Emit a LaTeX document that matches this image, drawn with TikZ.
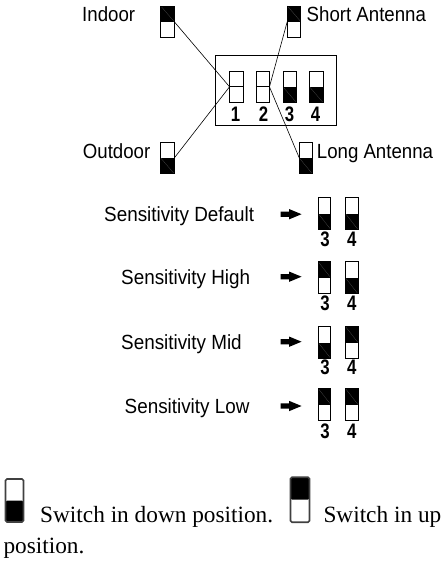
\documentclass[tikz,border=0pt]{standalone}
\usepackage{fontspec}
\setmainfont{Liberation Serif}
\newfontfamily\labfont[FakeStretch=0.91]{Liberation Sans}
\newfontfamily\senfont[FakeStretch=0.92]{Liberation Sans}
\newfontfamily\numfont[FakeStretch=0.8]{Liberation Sans}
\usetikzlibrary{shapes.arrows}
\tikzset{
  sw/.style={draw, line width=0.7pt, inner sep=0pt, outer sep=0pt, minimum width=13.5pt, minimum height=31.5pt},
  swup/.style={sw, path picture={
     \fill (path picture bounding box.north west) rectangle (path picture bounding box.east);
     \draw[black!70, line width=0.25pt] (path picture bounding box.north west) -- (path picture bounding box.east);}},
  swdn/.style={sw, path picture={
     \fill (path picture bounding box.west) rectangle (path picture bounding box.south east);
     \draw[black!70, line width=0.25pt] (path picture bounding box.west) -- (path picture bounding box.south east);}},
  swmid/.style={sw, path picture={\draw[line width=0.7pt] (path picture bounding box.west) -- (path picture bounding box.east);}},
  rsw/.style={minimum width=12.5pt, minimum height=32pt},
  lab/.style={font=\labfont\fontsize{20.5}{24}\selectfont, inner sep=0pt, anchor=base west},
  sen/.style={font=\senfont\fontsize{20.5}{24}\selectfont, inner sep=0pt, anchor=base west},
  num/.style={font=\numfont\bfseries\fontsize{21}{24}\selectfont, inner sep=0pt, anchor=base},
  leg/.style={font=\fontsize{23.3}{28}\selectfont, inner sep=0pt, anchor=base west},
  conn/.style={line width=0.6pt},
  arr/.style={single arrow, fill, draw=none, inner xsep=0pt, inner ysep=2.5pt, minimum height=21pt, single arrow head extend=2.4pt, single arrow tip angle=45},
  legsw/.style={draw=black!75, line width=1.6pt, rounded corners=1.5pt, inner sep=0pt, outer sep=0pt, minimum width=18pt, minimum height=43pt},
  legdn/.style={legsw, path picture={\fill (path picture bounding box.west) rectangle (path picture bounding box.south east);}},
  legup/.style={legsw, path picture={\fill (path picture bounding box.north west) rectangle (path picture bounding box.east);}}
}
\begin{document}
\begin{tikzpicture}[x=1pt,y=-1pt]
\useasboundingbox (0,0) rectangle (445,566);
% top section
\node[lab] (tIn) at (82,21.5) {Indoor};
\node[swup] (sIn) at (167.5,21.7) {};
\node[swup] (sSh) at (294,21.6) {};
\node[lab] (tSh) at (306.5,21.7) {Short Antenna};
\node[swdn] (sOut) at (167.5,158) {};
\node[lab] (tOut) at (82.7,158.3) {Outdoor};
\node[swdn, minimum width=13pt] (sLong) at (305.8,158) {};
\node[lab] (tLong) at (316.7,158.3) {Long Antenna};
\node[draw, line width=0.7pt, minimum width=121.7pt, minimum height=70.5pt, inner sep=0pt] (box) at (275.85,90.5) {};
\node[swmid] (s1) at (236.3,86.8) {};
\node[swmid] (s2) at (262.7,86.8) {};
\node[swdn] (s3) at (289.7,86.8) {};
\node[swdn] (s4) at (316.3,86.8) {};
\node[num] (n1) at (235.5,121.7) {1};
\node[num] (n2) at (263.5,121.7) {2};
\node[num] (n3) at (289.5,121.7) {3};
\node[num] (n4) at (315.5,121.7) {4};
\draw[conn] (sIn.east) -- (s1.west);
\draw[conn] (sOut.east) -- (s1.west);
\draw[conn] (s2.east) -- (sSh.west);
\draw[conn] (s2.east) -- (sLong.west);
% sensitivity rows
\node[sen] (tDef) at (104,221.7) {Sensitivity Default};
\node[arr] (aDef) at (287.8,214.2) {};
\node[swdn,rsw] (dA) at (324.5,213.5) {};
\node[swdn,rsw] (dB) at (351.7,213.5) {};
\node[num] (dn3) at (325,246.7) {3};
\node[num] (dn4) at (351.7,246.7) {4};

\node[sen] (tHi) at (121,284.3) {Sensitivity High};
\node[arr] (aHi) at (287.8,276.7) {};
\node[swup,rsw] (hA) at (324.5,277.8) {};
\node[swdn,rsw] (hB) at (351.7,277.8) {};
\node[num] (hn3) at (325,310) {3};
\node[num] (hn4) at (351.7,310) {4};

\node[sen] (tMid) at (121,349.3) {Sensitivity Mid};
\node[arr] (aMid) at (287.8,341.7) {};
\node[swdn,rsw] (mA) at (324.5,342.5) {};
\node[swup,rsw] (mB) at (351.7,342.5) {};
\node[num] (mn3) at (325,374.3) {3};
\node[num] (mn4) at (351.7,374.3) {4};

\node[sen] (tLow) at (124.5,413.3) {Sensitivity Low};
\node[arr] (aLow) at (287.8,406) {};
\node[swup,rsw] (lA) at (324.5,404.5) {};
\node[swup,rsw] (lB) at (351.7,404.5) {};
\node[num] (ln3) at (325,438.3) {3};
\node[num] (ln4) at (351.7,438.3) {4};
% legend
\node[legdn] (gDn) at (14.5,500.5) {};
\node[leg] (gT1) at (40,522.8) {Switch in down position.};
\node[legup, minimum width=19pt, minimum height=45pt] (gUp) at (300,499.7) {};
\node[leg] (gT2) at (323.3,522.8) {Switch in up};
\node[leg] (gT3) at (3.3,553) {position.};
\end{tikzpicture}
\end{document}
